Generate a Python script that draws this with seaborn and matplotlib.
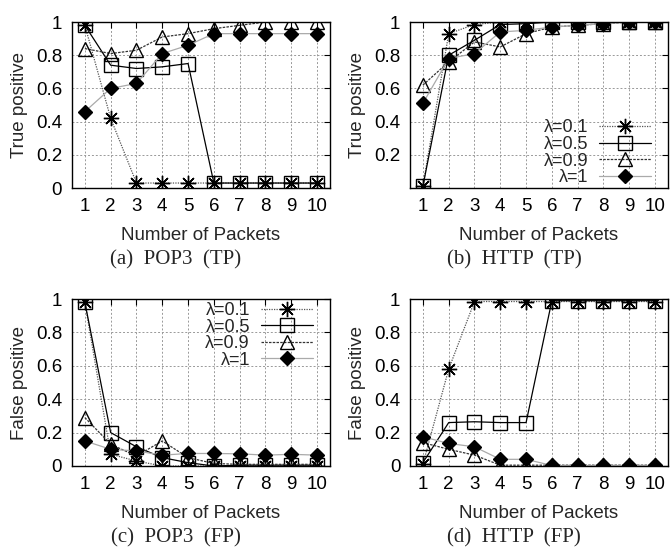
import numpy as np
import pandas as pd
import matplotlib
matplotlib.use("Agg")
import matplotlib.pyplot as plt
import seaborn as sns

packets = list(range(1, 11))
lambdas = ["λ=0.1", "λ=0.5", "λ=0.9", "λ=1"]

# (a) POP3 true positive
pop3_tp = {
    "λ=0.1": [0.98, 0.42, 0.03, 0.03, 0.03, 0.03, 0.03, 0.03, 0.03, 0.03],
    "λ=0.5": [0.98, 0.74, 0.72, 0.73, 0.75, 0.03, 0.03, 0.03, 0.03, 0.03],
    "λ=0.9": [0.84, 0.81, 0.83, 0.91, 0.93, 0.96, 0.98, 1.0, 1.0, 1.0],
    "λ=1":   [0.46, 0.60, 0.63, 0.81, 0.86, 0.93, 0.93, 0.93, 0.93, 0.93],
}
# (b) HTTP true positive
http_tp = {
    "λ=0.1": [0.01, 0.93, 0.985, 1.0, 1.0, 1.0, 1.0, 1.0, 1.0, 1.0],
    "λ=0.5": [0.01, 0.80, 0.89, 0.985, 0.99, 1.0, 1.0, 1.0, 1.0, 1.0],
    "λ=0.9": [0.62, 0.76, 0.88, 0.85, 0.93, 0.97, 0.98, 0.99, 1.0, 1.0],
    "λ=1":   [0.51, 0.78, 0.81, 0.94, 0.95, 0.97, 0.98, 0.99, 1.0, 1.0],
}
# (c) POP3 false positive
pop3_fp = {
    "λ=0.1": [0.98, 0.07, 0.03, 0.0, 0.0, 0.0, 0.0, 0.0, 0.0, 0.0],
    "λ=0.5": [0.98, 0.20, 0.115, 0.05, 0.02, 0.0, 0.005, 0.005, 0.005, 0.005],
    "λ=0.9": [0.29, 0.13, 0.06, 0.15, 0.05, 0.015, 0.01, 0.01, 0.01, 0.01],
    "λ=1":   [0.15, 0.10, 0.09, 0.065, 0.075, 0.075, 0.073, 0.065, 0.07, 0.065],
}
# (d) HTTP false positive
http_fp = {
    "λ=0.1": [0.01, 0.58, 0.985, 0.985, 0.985, 0.985, 0.985, 0.985, 0.985, 0.985],
    "λ=0.5": [0.02, 0.26, 0.265, 0.26, 0.26, 0.99, 0.99, 0.99, 0.99, 0.99],
    "λ=0.9": [0.14, 0.10, 0.065, 0.005, 0.005, 0.005, 0.005, 0.005, 0.005, 0.005],
    "λ=1":   [0.175, 0.135, 0.115, 0.04, 0.04, 0.003, 0.003, 0.003, 0.003, 0.003],
}

captions = ["(a)  POP3  (TP)", "(b)  HTTP  (TP)", "(c)  POP3  (FP)", "(d)  HTTP  (FP)"]
ylabels = ["True positive", "True positive", "False positive", "False positive"]

styles = {
    "λ=0.1": dict(color="#555555", linestyle=(0, (1, 1)), marker=(8, 2, 0), ms=11,
                  mfc="black", mec="black", mew=1.0),
    "λ=0.5": dict(color="black", linestyle="-", marker="s", ms=10,
                  mfc="none", mec="black", mew=1.0),
    "λ=0.9": dict(color="#333333", linestyle=(0, (2, 1)), marker="^", ms=10,
                  mfc="none", mec="black", mew=1.0),
    "λ=1":   dict(color="#aaaaaa", linestyle="-", marker="D", ms=7.5,
                  mfc="black", mec="black", mew=1.0),
}

sns.set_style("white")
plt.rcParams["font.family"] = ["Liberation Sans", "DejaVu Sans"]

fig = plt.figure(figsize=(6.72, 5.52), dpi=100)
positions = [
    [0.1071, 0.6594, 0.3839, 0.3007],
    [0.6101, 0.6594, 0.3839, 0.3007],
    [0.1071, 0.1558, 0.3839, 0.3025],
    [0.6101, 0.1558, 0.3839, 0.3025],
]
panels = [pop3_tp, http_tp, pop3_fp, http_fp]
legend_spots = {1: ("lower right", (0.963, -0.033)),
                2: ("upper right", (0.963, 1.026))}

for i, (data, pos) in enumerate(zip(panels, positions)):
    ax = fig.add_axes(pos)
    df = pd.DataFrame({"packets": packets, **data})
    for lam in lambdas:
        st = styles[lam]
        sns.lineplot(data=df, x="packets", y=lam, ax=ax, label=lam,
                     lw=0.9, legend=False, **st)
    ax.set_xlim(0.5, 10.5)
    ax.set_ylim(0, 1)
    ax.set_xticks(packets)
    ax.set_xticklabels([str(p) for p in packets])
    if i == 1:
        yt = [0.2, 0.4, 0.6, 0.8, 1.0]
    else:
        yt = [0, 0.2, 0.4, 0.6, 0.8, 1.0]
    ax.set_yticks(yt)
    ax.set_yticklabels(["0" if v == 0 else ("1" if v == 1 else f"{v:.1f}") for v in yt])
    ax.grid(True, color="#999999", linestyle=(0, (2, 2)), lw=0.7)
    ax.tick_params(direction="in", top=True, right=True, length=4, width=0.8,
                   labelsize=13.5, colors="black", pad=7)
    for s in ax.spines.values():
        s.set_color("black")
        s.set_linewidth(1.0)
    ax.set_xlabel("Number of Packets", fontsize=13.5, labelpad=8.5)
    ax.set_ylabel(ylabels[i], fontsize=13.5, labelpad=6)

    if i in legend_spots:
        loc, anchor = legend_spots[i]
        ax.legend(loc=loc, bbox_to_anchor=anchor, borderaxespad=0,
                  frameon=False, markerfirst=False, fontsize=13,
                  handlelength=2.9, handletextpad=0.6, labelspacing=-0.02)

    cx = (pos[0] + pos[2] / 2) - 25 / 672
    fig.text(cx, pos[1] - 72 / 552, captions[i], ha="center", va="center",
             fontsize=15, family="Liberation Serif")

fig.savefig("out.png", dpi=100)
